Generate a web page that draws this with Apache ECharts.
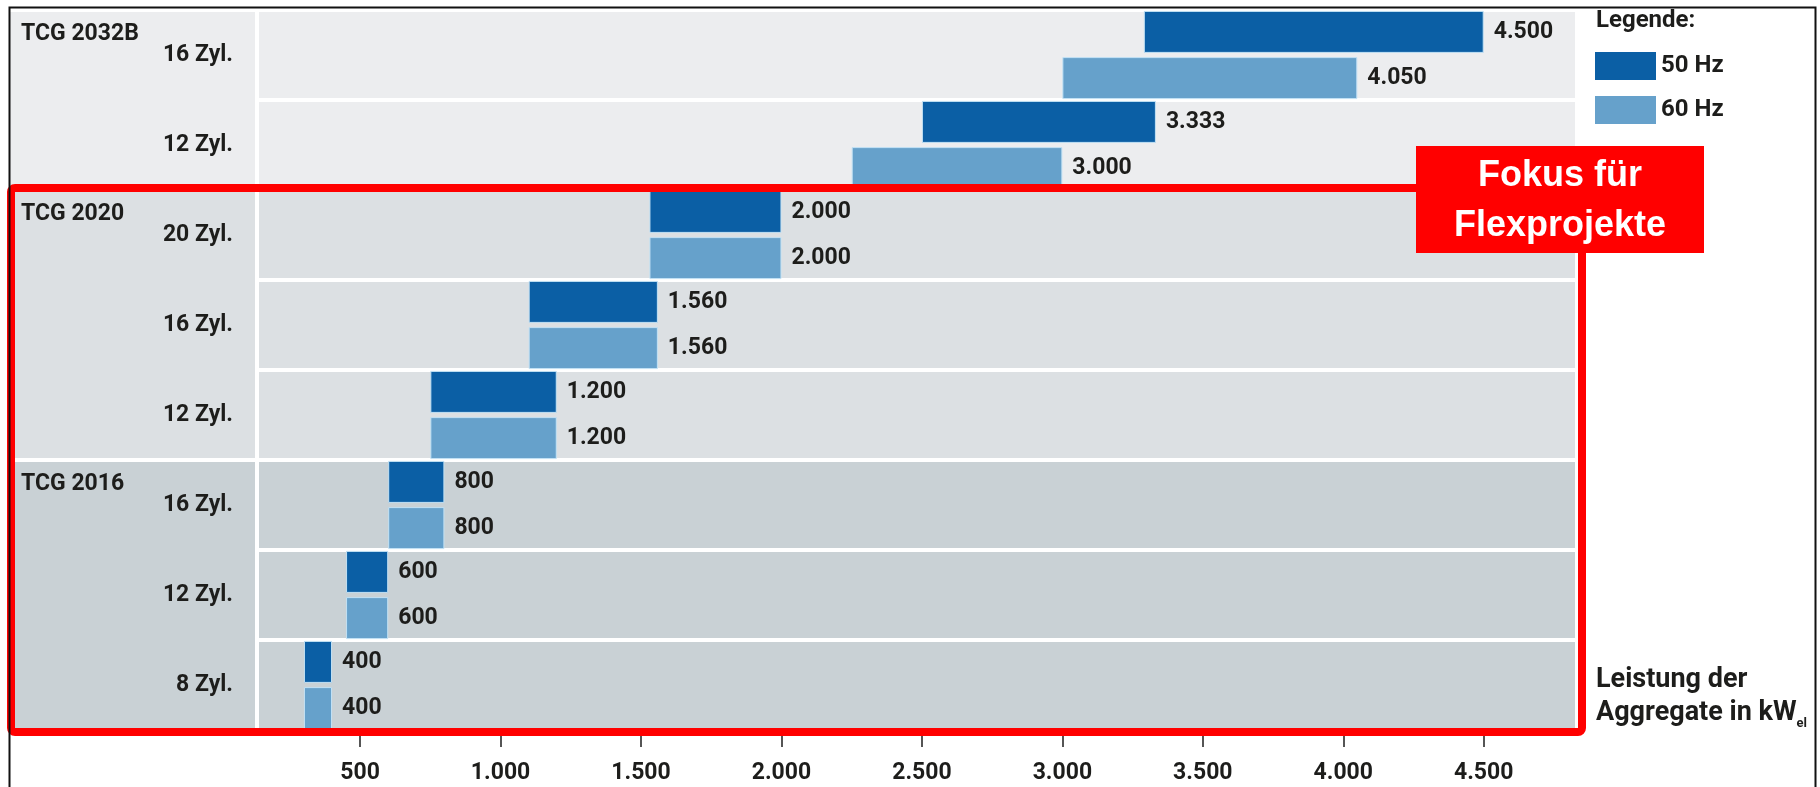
<!DOCTYPE html>
<html>
<head>
<meta charset="utf-8">
<title>TCG Aggregate Leistung</title>
<script src="https://cdn.jsdelivr.net/npm/echarts@6/dist/echarts.min.js"></script>
<style>
    html, body { margin: 0; padding: 0; background: #fff; }
    #chart { width: 1820px; height: 787px; }
</style>
</head>
<body>
<div id="chart"></div>
<script>
// Baureihen und Zylinderzahlen (von oben nach unten)
var groups = ['TCG 2032B', 'TCG 2020', 'TCG 2016'];
var groupSizes = [2, 3, 3];
var rows = ['16 Zyl.', '12 Zyl.', '20 Zyl.', '16 Zyl.', '12 Zyl.', '16 Zyl.', '12 Zyl.', '8 Zyl.'];

// Leistungsbereich in kWel, von / bis
var start50 = [3290, 2500, 1530, 1100, 750, 600, 450, 300];
var end50 = [4500, 3333, 2000, 1560, 1200, 800, 600, 400];
var start60 = [3000, 2250, 1530, 1100, 750, 600, 450, 300];
var end60 = [4050, 3000, 2000, 1560, 1200, 800, 600, 400];

var xTicks = [500, 1000, 1500, 2000, 2500, 3000, 3500, 4000, 4500];

var font = 'Roboto';
var ink = '#1d1d1b';
var bandColors = ['#ecedef', '#dce0e3', '#c9d1d5'];

// deutsche Tausenderpunkte
function fmt(v) {
    return String(v).replace(/\B(?=(\d{3})+(?!\d))/g, '.');
}

// zeilen-ids, farben und gruppenanfang
var rowIds = [];
var rowColors = [];
var groupStart = {};
var r = 0;
groups.forEach(function (g, gi) {
    groupStart[r] = g;
    for (var k = 0; k < groupSizes[gi]; k++) {
        rowIds.push(g + ' ' + rows[r]);
        rowColors.push(bandColors[gi]);
        r++;
    }
});

var txt = { fontFamily: font, fontSize: 23, fontWeight: 'bold', color: ink };

function floatBars(name, starts, ends, color) {
    var common = {
        type: 'bar',
        stack: name,
        xAxisIndex: 1,
        yAxisIndex: 1,
        barWidth: 42,
        barGap: '10%'
    };
    var base = Object.assign({}, common, {
        name: name + ' base',
        data: starts,
        silent: true,
        itemStyle: { color: 'transparent' },
        emphasis: { disabled: true }
    });
    var bar = Object.assign({}, common, {
        name: name,
        data: ends.map(function (e, i) { return e - starts[i]; }),
        itemStyle: { color: color, borderColor: '#c3e2f5', borderWidth: 1 },
        label: Object.assign({
            show: true,
            position: 'right',
            distance: 10,
            formatter: function (p) { return fmt(ends[p.dataIndex]); }
        }, txt)
    });
    return [base, bar];
}

var option = {
    animation: false,
    title: {
        text: 'Legende:',
        left: 1596,
        top: 9,
        padding: 0,
        textStyle: { fontFamily: font, fontSize: 24, fontWeight: 'bold', color: ink }
    },
    legend: {
        data: ['50 Hz', '60 Hz'],
        orient: 'vertical',
        left: 1595,
        top: 52,
        padding: 0,
        itemWidth: 61,
        itemHeight: 28,
        itemGap: 16,
        icon: 'rect',
        selectedMode: false,
        itemStyle: { borderWidth: 0 },
        textStyle: { fontFamily: font, fontSize: 24, fontWeight: 'bold', color: ink }
    },
    grid: [
        { left: 10, top: 10, width: 245, height: 720 },
        { left: 259, top: 10, width: 1316, height: 720 }
    ],
    xAxis: [
        { gridIndex: 0, type: 'value', show: false, min: 0, max: 1 },
        {
            gridIndex: 1,
            type: 'value',
            min: 140,
            max: 4825,
            splitLine: { show: false },
            axisLine: { show: false },
            axisTick: {
                show: true,
                customValues: xTicks,
                length: 17,
                lineStyle: { color: '#555', width: 2 }
            },
            axisLabel: Object.assign({ customValues: xTicks, formatter: fmt, margin: 32 }, txt),
            name: 'Leistung der\nAggregate in kW{sub|el}',
            nameLocation: 'end',
            nameGap: 21,
            nameTextStyle: {
                fontFamily: font,
                fontSize: 27,
                fontWeight: 'bold',
                color: ink,
                align: 'left',
                verticalAlign: 'bottom',
                lineHeight: 33,
                rich: {
                    sub: { fontFamily: font, fontSize: 13, fontWeight: 'bold', color: ink, lineHeight: 14, verticalAlign: 'bottom' }
                }
            }
        }
    ],
    yAxis: [
        {
            // linke Spalte: Baureihen, oben in der Gruppe
            gridIndex: 0,
            type: 'category',
            inverse: true,
            data: rowIds,
            axisLine: { show: false },
            axisTick: { show: false },
            axisLabel: Object.assign({
                inside: true,
                align: 'left',
                margin: 11,
                interval: 0,
                lineHeight: 41,
                formatter: function (v, i) { return groupStart[i] ? groupStart[i] + '\n ' : ''; }
            }, txt),
            splitArea: { show: true, interval: 0, areaStyle: { color: rowColors } },
            splitLine: {
                show: true,
                interval: function (i) { return groupStart[i] !== undefined; },
                lineStyle: { color: '#fff', width: 4 }
            }
        },
        {
            gridIndex: 1,
            type: 'category',
            inverse: true,
            data: rowIds,
            axisLine: { show: false },
            axisTick: { show: false },
            axisLabel: Object.assign({
                margin: 26,
                interval: 0,
                formatter: function (v, i) { return rows[i]; }
            }, txt),
            splitArea: { show: true, interval: 0, areaStyle: { color: rowColors } },
            splitLine: { show: true, interval: 0, lineStyle: { color: '#fff', width: 4 } }
        }
    ],
    series: [].concat(
        floatBars('50 Hz', start50, end50, '#0b5fa5'),
        floatBars('60 Hz', start60, end60, '#66a1cb')
    ),
    graphic: [
        {
            // Fokus-Rahmen
            type: 'rect',
            z: 100,
            silent: true,
            shape: { x: 11, y: 188, width: 1571, height: 544, r: 4 },
            style: { fill: 'none', stroke: '#ff0000', lineWidth: 8 }
        },
        {
            type: 'rect',
            z: 110,
            silent: true,
            shape: { x: 1416, y: 146, width: 288, height: 107 },
            style: { fill: '#ff0000' }
        },
        {
            type: 'text',
            z: 111,
            silent: true,
            x: 1560,
            y: 201,
            style: {
                text: 'Fokus für\nFlexprojekte',
                fill: '#fff',
                fontFamily: 'Liberation Sans',
                fontSize: 36,
                fontWeight: 'bold',
                lineHeight: 50,
                textAlign: 'center',
                textVerticalAlign: 'middle'
            }
        },
        {
            // schwarzer Bildrand
            type: 'polyline',
            z: 120,
            silent: true,
            shape: { points: [[9.5, 787], [9.5, 7.5], [1815.5, 7.5], [1815.5, 787]] },
            style: { fill: 'none', stroke: '#111', lineWidth: 2 }
        }
    ]
};

var myChart = echarts.init(document.getElementById('chart'));
myChart.setOption(option);
</script>
</body>
</html>
